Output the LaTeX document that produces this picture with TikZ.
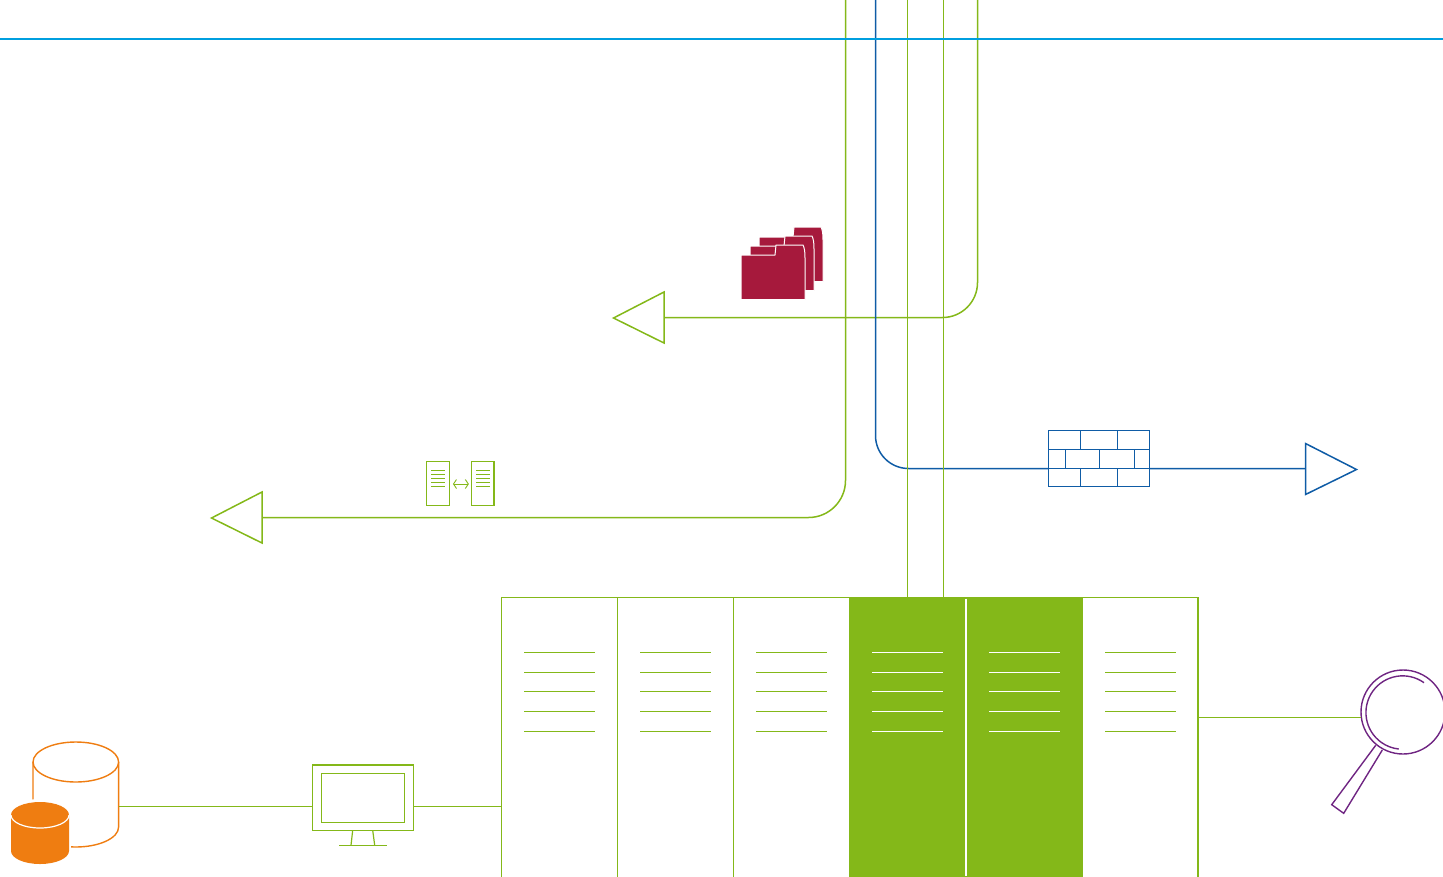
\documentclass[tikz,border=0pt]{standalone}
\definecolor{lineGreen}{HTML}{84B819}
\definecolor{netBlue}{HTML}{0F5CA6}
\definecolor{skyBlue}{HTML}{009FDF}
\definecolor{cylOrange}{HTML}{EF7D11}
\definecolor{lensPurple}{HTML}{6F2582}
\definecolor{folderRed}{HTML}{A6193C}
\tikzset{
  glin/.style={draw=lineGreen,line width=1.5pt},
  blin/.style={draw=netBlue,line width=1.5pt},
  plin/.style={draw=lensPurple,line width=1.4pt},
  olin/.style={draw=cylOrange,line width=1.4pt},
  rackbox/.style={glin,fill=white,rectangle,anchor=north west,inner sep=0pt,outer sep=0pt,minimum width=116pt,minimum height=300pt},
  rackon/.style={fill=lineGreen,rectangle,anchor=north west,inner sep=0pt,outer sep=0pt,minimum width=116pt,minimum height=300pt},
  iconbox/.style={rectangle,inner sep=0pt,outer sep=0pt,anchor=north west},
  folderpart/.style={fill=folderRed,draw=white,line width=1pt,line join=round},
  whitelin/.style={draw=white,line width=1.5pt},
  srv/.style={draw=lineGreen,line width=1.1pt}
}
\newcommand{\folderat}[2]{\path[folderpart,shift={(#1,#2)}] (0,0) -- (34,0) -- (35,-10) -- (62,-10) .. controls (63.5,-7) and (64,-3) .. (64,3) -- (64,44.5) -- (0,44.5) -- cycle;}
\newcommand{\racklines}[2]{\foreach \yy in {652.5,672.5,691.5,711.5,731.5}{\draw[#2] (#1,\yy) -- ++(70.5,0);}}
\newcommand{\srvlines}[1]{\foreach \yy in {470.3,474.3,478.3,482.2,486}{\draw[draw=lineGreen,line width=1pt] (#1,\yy) -- ++(14,0);}}
\begin{document}
\begin{tikzpicture}[x=1pt,y=-1pt]
\useasboundingbox (0,0) rectangle (1443,876);
\clip (0,0) rectangle (1443,876);
% named anchors
\coordinate (t1) at (845.5,0);
\coordinate (t2) at (875.5,0);
\coordinate (t3) at (907.5,0);
\coordinate (t4) at (943.5,0);
\coordinate (t5) at (977.5,0);
\coordinate (skyL) at (0,39);
\coordinate (skyR) at (1443,39);
\coordinate (c1) at (845.5,517.5);
\coordinate (c2) at (875.5,468.5);
\coordinate (c5) at (977.5,317.5);
% arrow triangles
\node[iconbox] (tipA) at (613,317.5) {};
\node[iconbox] (tipB) at (211,517.5) {};
\node[iconbox] (tipC) at (1356,469) {};
\coordinate (baseA) at (664,317.5);
\coordinate (baseB) at (262,517.5);
\coordinate (baseC) at (1305.5,468.5);
% routed lines
\draw[glin,rounded corners=37pt] (t1) -- (c1) -- (baseB);
\draw[glin,rounded corners=35pt] (t5) -- (c5) -- (baseA);
\draw[blin,rounded corners=33pt] (t2) -- (c2) -- (baseC);
\draw[glin] (tipA.center) -- (664,292) -- (664,343) -- cycle;
\draw[glin] (tipB.center) -- (262,492) -- (262,543) -- cycle;
\draw[blin] (tipC.center) -- (1305.5,443.5) -- (1305.5,494.5) -- cycle;
% racks
\node[rackbox] (r1) at (501.5,597.5) {};
\node[rackbox] (r2) at (617.5,597.5) {};
\node[rackbox] (r3) at (733.5,597.5) {};
\node[rackbox] (r6) at (1082,597.5) {};
\node[rackon,minimum width=116.5pt] (r4) at (849.5,597.5) {};
\node[rackon] (r5) at (966,597.5) {};
\draw[draw=white,line width=2pt] (966,598.6) -- (966,876);
\draw[glin] (849.5,597.5) -- (1082,597.5);
\racklines{524}{glin,line width=1.2pt}
\racklines{640}{glin,line width=1.2pt}
\racklines{756}{glin,line width=1.2pt}
\racklines{872}{whitelin}
\racklines{989}{whitelin}
\racklines{1105}{glin,line width=1.2pt}
% verticals to green racks
\coordinate (r4a) at (907.5,597.5);
\coordinate (r4b) at (943.5,597.5);
\draw[glin] (t3) -- (r4a);
\draw[glin] (t4) -- (r4b);
% top line
\draw[draw=skyBlue,line width=2pt] (skyL) -- (skyR);
% folders
\folderat{759}{237}
\folderat{750}{246}
\folderat{741}{255}
% server icon
\node[iconbox,srv,minimum width=22.8pt,minimum height=44pt] (srvA) at (426.7,461.7) {};
\node[iconbox,srv,minimum width=22.3pt,minimum height=44pt] (srvB) at (471.7,461.7) {};
\srvlines{431}
\srvlines{476}
\draw[srv,line width=0.9pt] (453.5,484) -- (468.3,484);
\draw[srv,line width=0.9pt] (456.5,479.5) -- (453.5,484) -- (456.5,488.5);
\draw[srv,line width=0.9pt] (465.3,479.5) -- (468.3,484) -- (465.3,488.5);
% firewall
\node[iconbox,blin,fill=white,minimum width=101pt,minimum height=56pt] (fw) at (1048.5,430.5) {};
\draw[blin] (fw.west |- 0,449.5) -- (fw.east |- 0,449.5);
\draw[blin] (fw.west |- 0,468.5) -- (fw.east |- 0,468.5);
\foreach \xx in {1080.5,1117.5}{
  \draw[blin] (\xx,430.5) -- (\xx,449.5);
  \draw[blin] (\xx,468.5) -- (\xx,486.5);
}
\foreach \xx in {1065.5,1099.5,1134.5}{
  \draw[blin] (\xx,449.5) -- (\xx,468.5);
}
% cylinders
\path[olin,fill=white] (33,762) -- (33,827) arc[start angle=180,end angle=0,x radius=42.8,y radius=20] -- (118.6,762);
\draw[olin,fill=white] (75.8,762) circle[x radius=42.8,y radius=20];
\path[fill=white] (9,815) rectangle (71,851);
\path[fill=white] (40,815) circle[x radius=31.5,y radius=16];
\path[fill=white] (40,851) circle[x radius=31.5,y radius=16];
\path[fill=cylOrange] (11,815) -- (11,851) arc[start angle=180,end angle=0,x radius=29,y radius=13] -- (69,815) arc[start angle=0,end angle=-180,x radius=29,y radius=13] -- cycle;
\draw[draw=white,line width=1.2pt] (11,815) arc[start angle=180,end angle=0,x radius=29,y radius=13];
% monitor
\node[iconbox,glin,minimum width=101pt,minimum height=65.5pt] (mon) at (312.5,764.8) {};
\node[iconbox,glin,minimum width=83pt,minimum height=49pt] (scr) at (321.5,773.5) {};
\draw[glin,line width=1.2pt] (352.7,830.3) -- (351,845.3);
\draw[glin,line width=1.2pt] (372.7,830.3) -- (374.7,845.3);
\draw[glin,line width=1.2pt] (339,845.5) -- (386.7,845.5);
% magnifier
\node[circle,plin,inner sep=0pt,outer sep=0pt,minimum size=84pt] (lens) at (1403,712) {};
\draw[plin] (1424,682.7) arc[start angle=-54.4,end angle=-264,radius=36.7];
\draw[plin] (1375.7,745.3) -- (1331.7,804.7) -- (1343.7,813.3) -- (1382.3,750);
% connectors
\coordinate (cylE) at (119,806.5);
\coordinate (monW) at (312.5,806.5);
\coordinate (monE) at (413.5,806.5);
\coordinate (r1W) at (501.5,806.5);
\coordinate (r6E) at (1198,717.5);
\coordinate (lensW) at (1361,717.5);
\draw[glin] (cylE) -- (monW);
\draw[glin] (monE) -- (r1W);
\draw[glin] (r6E) -- (lensW);
\end{tikzpicture}
\end{document}
